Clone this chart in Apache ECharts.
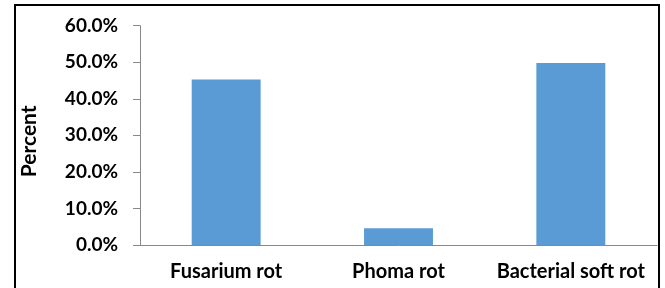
<!DOCTYPE html>
<html>
<head>
<meta charset="utf-8">
<style>
  html, body { margin: 0; padding: 0; background: #fff; }
  #chart { width: 665px; height: 288px; }
</style>
<script src="https://cdn.jsdelivr.net/npm/echarts@6/dist/echarts.min.js"></script>
</head>
<body>
<div id="chart"></div>
<script>
// data
const categories = ["Fusarium rot", "Phoma rot", "Bacterial soft rot"];
const percentValues = [45.3, 4.6, 49.8];
const yTicks = { min: 0, max: 60, step: 10 };

const chart = echarts.init(document.getElementById("chart"));
const labelFont = "Lato, 'Open Sans', sans-serif";

const option = {
  animation: false,
  // frame around the whole figure
  graphic: [{
    type: "rect",
    shape: { x: 15, y: 5, width: 644, height: 300 },
    style: { fill: "none", stroke: "#000", lineWidth: 2 },
    silent: true
  }],
  grid: { left: 140, right: 8, top: 25.7, bottom: 43 },
  xAxis: {
    type: "category",
    data: categories,
    axisLine: { lineStyle: { color: "#888", width: 1 } },
    axisTick: { length: 7, lineStyle: { color: "#888" } },
    axisLabel: {
      interval: 0, // keep every label, they nearly touch
      color: "#000",
      fontFamily: labelFont,
      fontWeight: "bold",
      fontSize: 20,
      margin: 17
    }
  },
  yAxis: {
    type: "value",
    min: yTicks.min,
    max: yTicks.max,
    interval: yTicks.step,
    name: "Percent",
    nameLocation: "middle",
    nameRotate: 90,
    nameGap: 100,
    nameTextStyle: {
      color: "#000",
      fontFamily: labelFont,
      fontWeight: "bold",
      fontSize: 21,
      padding: [0, 12, 0, 0] // nudge it a bit lower
    },
    splitLine: { show: false },
    axisLine: { show: true, lineStyle: { color: "#888", width: 1 } },
    axisTick: { show: true, length: 7, lineStyle: { color: "#888" } },
    axisLabel: {
      color: "#000",
      fontFamily: labelFont,
      fontWeight: "bold",
      fontSize: 19,
      margin: 22,
      formatter: (v) => v.toFixed(1) + "%"
    }
  },
  series: [{
    type: "bar",
    data: percentValues,
    barWidth: "40%",
    itemStyle: { color: "#5B9BD5" }
  }]
};

chart.setOption(option);
</script>
</body>
</html>
